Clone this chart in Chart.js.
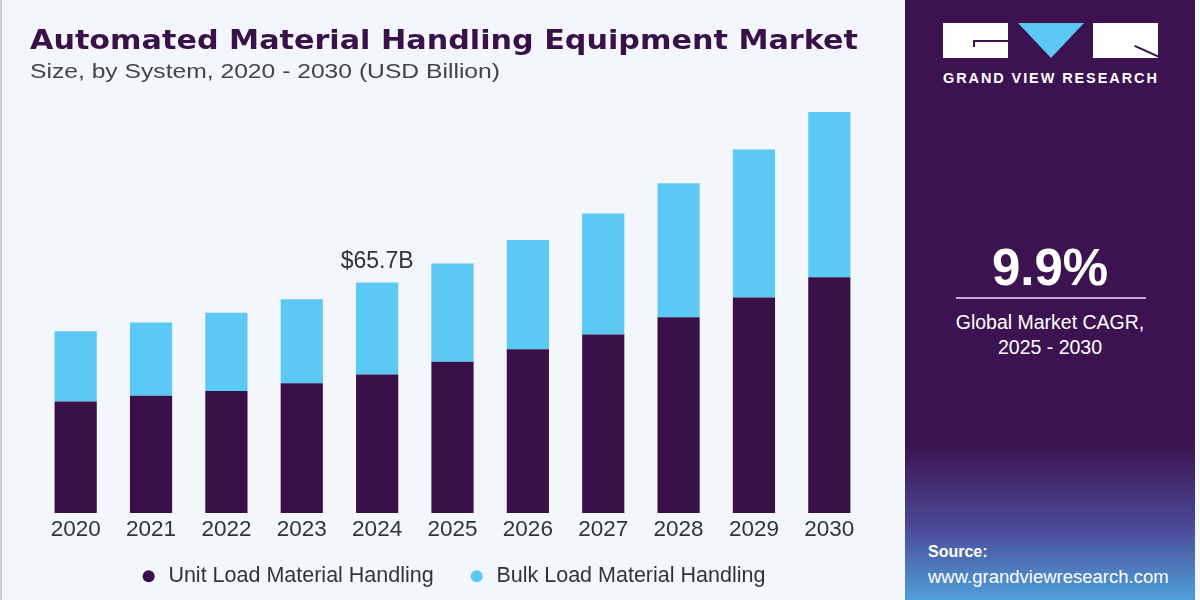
<!DOCTYPE html>
<html lang="en">

<head>
    <meta charset="UTF-8">
    <title>Automated Material Handling Equipment Market</title>
    <script src="https://cdn.jsdelivr.net/npm/chart.js"></script>
    <style>
        body { margin: 0; width: 1200px; height: 600px; background: #f3f7fb; font-family: 'Liberation Sans', Arial, sans-serif; position: relative; overflow: hidden; }
        #left { position: absolute; left: 0; top: 0; width: 905px; height: 600px; border-left: 2px solid #c9ccd2; box-sizing: border-box; }
        #myChart { position: absolute; left: -2px; top: 0; }
        .title { position: absolute; left: 28px; top: 26px; font-family: 'DejaVu Sans', sans-serif; font-size: 27px; line-height: 1; font-weight: bold; color: #3a1049; white-space: nowrap; transform-origin: 0 0; }
        .subtitle { position: absolute; left: 28px; top: 62px; font-size: 19.5px; line-height: 1; color: #444; white-space: nowrap; transform-origin: 0 0; }
        #panel { position: absolute; left: 905px; top: 0; width: 290px; height: 600px;
            background: linear-gradient(to bottom, #3c1350 0%, #3c1350 74%, #4b4a98 88%, #4fa0da 100%); color: #fff; }
        .logo div { position: absolute; }
        .gvr { position: absolute; left: 38px; top: 70px; font-size: 14.5px; font-weight: bold; letter-spacing: 1.9px; white-space: nowrap; }
        .cagr { position: absolute; left: 0; width: 290px; text-align: center; }
    </style>
</head>

<body>
    <div id="left">
        <canvas id="myChart" width="905" height="600"></canvas>
        <div class="title" data-w="828">Automated Material Handling Equipment Market</div>
        <div class="subtitle" data-w="470">Size, by System, 2020 - 2030 (USD Billion)</div>
    </div>
    <div id="panel">
        <div class="logo">
            <div style="left:38px;top:23px;width:65px;height:35px;background:#fff"></div>
            <div style="left:70px;top:40px;width:33px;height:2px;background:#3c1350"></div>
            <div style="left:68px;top:40px;width:2px;height:7px;background:#3c1350"></div>
            <div style="left:113px;top:23px;width:0;height:0;border-left:33px solid transparent;border-right:33px solid transparent;border-top:35px solid #5bc8f5"></div>
            <div style="left:188px;top:23px;width:65px;height:35px;background:#fff;overflow:hidden">
                <div style="left:42px;top:22px;width:28px;height:2px;background:#3c1350;transform:rotate(24deg);transform-origin:0 0"></div>
            </div>
        </div>
        <div class="gvr">GRAND VIEW RESEARCH</div>
        <div class="cagr" style="top:238px;font-size:51px;font-weight:bold">9.9%</div>
        <div style="position:absolute;left:51px;top:297px;width:190px;height:2px;background:#c6a5db"></div>
        <div class="cagr" style="top:310px;font-size:19.5px;line-height:25px">Global Market CAGR,<br>2025 - 2030</div>
        <div style="position:absolute;left:23px;top:543px;font-size:16px;font-weight:bold">Source:</div>
        <div style="position:absolute;left:23px;top:566px;font-size:18.5px">www.grandviewresearch.com</div>
    </div>
    <script>
        const years = ['2020', '2021', '2022', '2023', '2024', '2025', '2026', '2027', '2028', '2029', '2030'];
        const unitLoad = [31.8, 33.4, 34.8, 37.0, 39.5, 43.1, 46.7, 50.9, 55.8, 61.4, 67.2];
        const bulkLoad = [20.0, 20.9, 22.3, 23.9, 26.2, 28.0, 31.1, 34.5, 38.2, 42.2, 47.1];
        const calloutIndex = 4;
        const calloutText = '$65.7B';

        // растягиваем заголовки до ширины оригинала
        document.querySelectorAll('[data-w]').forEach(el => {
            const w = el.getBoundingClientRect().width;
            el.style.transform = 'scaleX(' + (el.dataset.w / w) + ')';
        });

        // подпись над столбцом 2024
        const callout = {
            id: 'callout',
            afterDatasetsDraw(chart) {
                const bar = chart.getDatasetMeta(1).data[calloutIndex];
                const c = chart.ctx;
                c.save();
                c.font = '23px "Liberation Sans", Arial, sans-serif';
                c.fillStyle = '#333';
                c.textAlign = 'center';
                c.textBaseline = 'alphabetic';
                c.fillText(calloutText, bar.x, bar.y - 15);
                c.restore();
            }
        };

        // ось X сжата, чтобы легенда была ближе; не обрезаем подписи
        const unclip = {
            id: 'unclip',
            afterLayout(chart) {
                const s = chart.scales.x;
                s.bottom = s.top + 40;
            }
        };

        const ctx = document.getElementById('myChart').getContext('2d');
        const chart = new Chart(ctx, {
            type: 'bar',
            data: {
                labels: years,
                datasets: [{
                    label: 'Unit Load Material Handling',
                    data: unitLoad,
                    backgroundColor: '#3a1049'
                }, {
                    label: 'Bulk Load Material Handling',
                    data: bulkLoad,
                    backgroundColor: '#5bc8f5'
                }]
            },
            options: {
                responsive: false,
                animation: false,
                layout: { padding: { left: 38, right: 38, top: 92, bottom: 3 } },
                datasets: { bar: { categoryPercentage: 1, barPercentage: 0.56 } },
                scales: {
                    x: {
                        stacked: true,
                        grid: { display: false, drawTicks: false },
                        border: { display: false },
                        ticks: { color: '#333', font: { size: 22.5, family: 'Liberation Sans' }, padding: 3.5 },
                        afterFit: scale => { scale.height = 18.5; }
                    },
                    y: { stacked: true, display: false, min: 0, max: 120 }
                },
                plugins: {
                    legend: {
                        position: 'bottom',
                        labels: {
                            usePointStyle: true,
                            pointStyle: 'circle',
                            boxWidth: 18,
                            boxHeight: 8.5,
                            padding: 34,
                            color: '#333',
                            font: { size: 21.5, family: 'Liberation Sans' }
                        }
                    },
                    tooltip: { enabled: false }
                }
            },
            plugins: [callout, unclip]
        });
    </script>
</body>

</html>
